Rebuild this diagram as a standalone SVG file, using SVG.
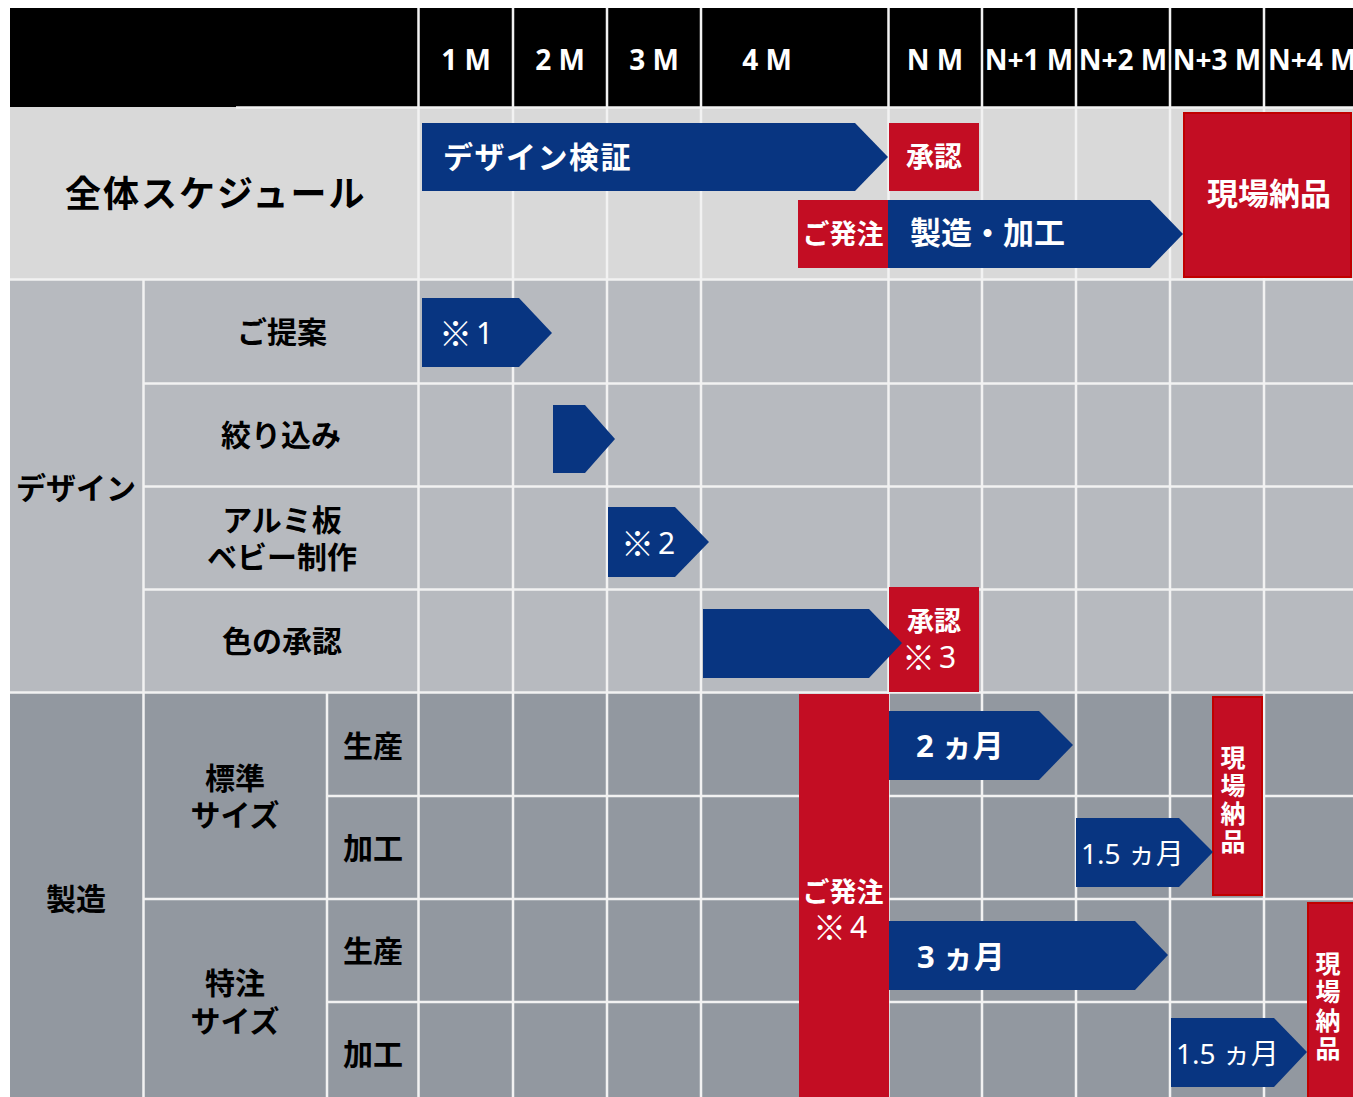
<svg xmlns="http://www.w3.org/2000/svg" width="1353" height="1097" viewBox="0 0 1353 1097">
<style>
text{font-family:"Noto Sans","Noto Sans CJK JP",sans-serif;dominant-baseline:central}
.hd{fill:#fff;font-size:28px;font-weight:700;text-anchor:middle}
.lb{fill:#000;font-size:30px;font-weight:700;text-anchor:middle}
.wt{fill:#fff;font-weight:700}
.wn{fill:#fff;font-weight:400}
.km{font-family:"Noto Sans CJK JP",sans-serif;font-size:33px;font-weight:700}
.gl{stroke:#f2f2f2;stroke-width:2.5;fill:none}
.bar{fill:#083581}
.red{fill:#c30d23}
.redb{fill:#c30d23;stroke:#c00000;stroke-width:2}
</style>
<rect width="1353" height="1097" fill="#fff"/>
<g id="table">
<rect x="10" y="8" width="1343" height="99" fill="#000"/>
<rect x="10" y="107" width="1343" height="172" fill="#d9d9d9"/>
<rect x="10" y="279" width="1343" height="413" fill="#b7babf"/>
<rect x="10" y="692" width="1343" height="405" fill="#9298a0"/>
<g class="gl">
<path d="M418.5 8V1097M513 8V1097M607 8V1097M701 8V1097M888.5 8V1097M982 8V1097M1076 8V1097M1170 8V1097M1264 8V1097"/>
<path d="M236 107.5H1353"/>
<path d="M10 279.5H1353M143.5 279V1097M143 383.5H1353M143 486.5H1353M143 589.5H1353M10 692.5H1353M327 692V1097M327 796H1353M143 899H1353M327 1002H1353"/>
</g>
</g>
<g id="header">
<text class="hd" x="466" y="58.5">1 M</text>
<text class="hd" x="560" y="58.5">2 M</text>
<text class="hd" x="654" y="58.5">3 M</text>
<text class="hd" x="767" y="58.5">4 M</text>
<text class="hd" x="935" y="58.5">N M</text>
<text class="hd" x="1029" y="58.5">N+1 M</text>
<text class="hd" x="1123" y="58.5">N+2 M</text>
<text class="hd" x="1217" y="58.5">N+3 M</text>
<text class="hd" x="1268" y="58.5" style="text-anchor:start">N+4 M</text>
</g>
<g id="labels">
<text class="lb" x="65" y="193" style="font-size:36px;letter-spacing:2px;text-anchor:start">全体スケジュール</text>
<text class="lb" x="76" y="487">デザイン</text>
<text class="lb" x="282" y="331">ご提案</text>
<text class="lb" x="281" y="434">絞り込み</text>
<text class="lb" x="282" y="519">アルミ板</text>
<text class="lb" x="282" y="556">ベビー制作</text>
<text class="lb" x="282" y="640">色の承認</text>
<text class="lb" x="76" y="898">製造</text>
<text class="lb" x="235" y="777">標準</text>
<text class="lb" x="235" y="814">サイズ</text>
<text class="lb" x="235" y="982">特注</text>
<text class="lb" x="235" y="1020">サイズ</text>
<text class="lb" x="373" y="745">生産</text>
<text class="lb" x="373" y="847">加工</text>
<text class="lb" x="373" y="950">生産</text>
<text class="lb" x="373" y="1053">加工</text>
</g>
<g id="overall-schedule">
<polygon class="bar" points="422,123 855,123 888,157 855,191 422,191"/>
<text class="wt" x="443" y="156" style="font-size:30px;letter-spacing:1.5px">デザイン検証</text>
<rect class="red" x="889" y="123" width="90" height="68"/>
<text class="wt" x="934" y="156" style="font-size:28px;text-anchor:middle">承認</text>
<rect class="red" x="798" y="200" width="90" height="68"/>
<text class="wt" x="843" y="233" style="font-size:27px;text-anchor:middle">ご発注</text>
<polygon class="bar" points="888,200 1150,200 1183,234 1150,268 888,268"/>
<text class="wt" x="910" y="232" style="font-size:31px">製造・加工</text>
<rect class="redb" x="1184" y="113" width="167" height="164"/>
<text class="wt" x="1269" y="193" style="font-size:31px;text-anchor:middle">現場納品</text>
</g>
<g id="design-schedule">
<polygon class="bar" points="422,298 519,298 552,333 519,367 422,367"/>
<text class="wn" x="439" y="332" style="font-size:30px"><tspan class="km">※</tspan><tspan dx="4">1</tspan></text>
<polygon class="bar" points="553,405 585,405 615,439 585,473 553,473"/>
<polygon class="bar" points="608,507 675,507 709,542 675,577 608,577"/>
<text class="wn" x="621" y="542" style="font-size:30px"><tspan class="km">※</tspan><tspan dx="4">2</tspan></text>
<rect class="red" x="889" y="587" width="90" height="105"/>
<text class="wt" x="934" y="620" style="font-size:27px;text-anchor:middle">承認</text>
<text class="wn" x="902" y="656" style="font-size:30px"><tspan class="km">※</tspan><tspan dx="4">3</tspan></text>
<polygon class="bar" points="703,609 869,609 902,643 869,678 703,678"/>
</g>
<g id="manufacturing-schedule">
<rect class="red" x="799" y="694" width="90" height="403"/>
<text class="wt" x="843" y="891" style="font-size:27px;text-anchor:middle">ご発注</text>
<text class="wn" x="813" y="926" style="font-size:30px"><tspan class="km">※</tspan><tspan dx="4">4</tspan></text>
<polygon class="bar" points="889,711 1039,711 1073,745 1039,780 889,780"/>
<text class="wt" x="916" y="745" style="font-size:31px">2 ヵ月</text>
<rect class="redb" x="1213" y="697" width="49" height="198"/>
<text class="wt" style="font-size:25px;text-anchor:middle"><tspan x="1233" y="757">現</tspan><tspan x="1233" y="785">場</tspan><tspan x="1233" y="813">納</tspan><tspan x="1233" y="841">品</tspan></text>
<polygon class="bar" points="1076,818 1179,818 1213,852 1179,887 1076,887"/>
<text class="wn" x="1081" y="853" style="font-size:28px">1.5 ヵ月</text>
<polygon class="bar" points="889,921 1135,921 1168,955 1135,990 889,990"/>
<text class="wt" x="917" y="956" style="font-size:31px">3 ヵ月</text>
<rect class="redb" x="1308" y="903" width="46" height="195"/>
<text class="wt" style="font-size:25px;text-anchor:middle"><tspan x="1328" y="963">現</tspan><tspan x="1328" y="991">場</tspan><tspan x="1328" y="1020">納</tspan><tspan x="1328" y="1048">品</tspan></text>
<polygon class="bar" points="1171,1018 1274,1018 1307,1052 1274,1087 1171,1087"/>
<text class="wn" x="1176" y="1053" style="font-size:28px">1.5 ヵ月</text>
</g>
</svg>
